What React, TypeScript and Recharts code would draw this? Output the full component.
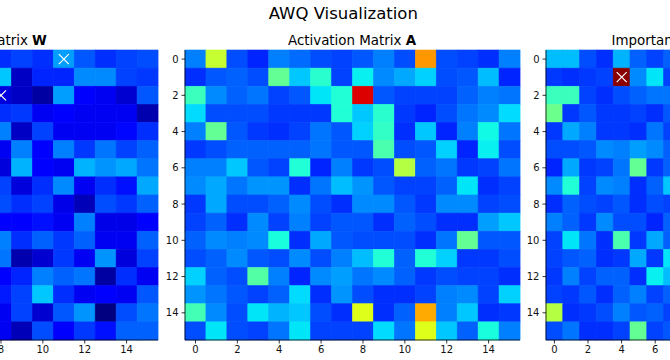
import { BarChart, Bar, XAxis, YAxis } from 'recharts'

// column / row indices of each 16x16 matrix
const columns = [0, 1, 2, 3, 4, 5, 6, 7, 8, 9, 10, 11, 12, 13, 14, 15]
const tickLabels = [0, 2, 4, 6, 8, 10, 12, 14]

// Activation matrix A, all 16 columns (normalised 0..1 on the jet scale)
const activationRows = [
  [0.25, 0.59, 0.20, 0.16, 0.25, 0.23, 0.20, 0.19, 0.21, 0.25, 0.20, 0.75, 0.20, 0.19, 0.17, 0.25],
  [0.17, 0.21, 0.22, 0.20, 0.47, 0.32, 0.40, 0.19, 0.36, 0.26, 0.29, 0.33, 0.20, 0.21, 0.31, 0.16],
  [0.42, 0.26, 0.22, 0.24, 0.19, 0.21, 0.35, 0.39, 0.92, 0.21, 0.19, 0.19, 0.19, 0.22, 0.25, 0.24],
  [0.34, 0.20, 0.20, 0.20, 0.18, 0.18, 0.18, 0.39, 0.32, 0.40, 0.18, 0.16, 0.20, 0.24, 0.26, 0.34],
  [0.25, 0.47, 0.21, 0.18, 0.17, 0.19, 0.24, 0.21, 0.33, 0.41, 0.17, 0.32, 0.16, 0.25, 0.37, 0.24],
  [0.18, 0.20, 0.22, 0.22, 0.22, 0.22, 0.24, 0.21, 0.21, 0.44, 0.20, 0.21, 0.33, 0.16, 0.36, 0.20],
  [0.25, 0.25, 0.32, 0.21, 0.19, 0.39, 0.16, 0.25, 0.18, 0.20, 0.57, 0.22, 0.24, 0.18, 0.19, 0.24],
  [0.26, 0.29, 0.24, 0.27, 0.27, 0.17, 0.24, 0.31, 0.27, 0.21, 0.19, 0.19, 0.22, 0.35, 0.17, 0.19],
  [0.18, 0.29, 0.20, 0.20, 0.22, 0.26, 0.20, 0.17, 0.26, 0.26, 0.21, 0.18, 0.26, 0.26, 0.19, 0.20],
  [0.19, 0.22, 0.17, 0.26, 0.19, 0.25, 0.19, 0.21, 0.21, 0.17, 0.22, 0.20, 0.17, 0.17, 0.28, 0.32],
  [0.22, 0.26, 0.25, 0.26, 0.38, 0.17, 0.29, 0.21, 0.20, 0.20, 0.20, 0.17, 0.24, 0.47, 0.21, 0.21],
  [0.20, 0.22, 0.26, 0.21, 0.20, 0.26, 0.20, 0.25, 0.31, 0.39, 0.22, 0.39, 0.33, 0.18, 0.18, 0.20],
  [0.33, 0.22, 0.20, 0.45, 0.25, 0.16, 0.26, 0.28, 0.24, 0.26, 0.22, 0.18, 0.20, 0.19, 0.19, 0.17],
  [0.27, 0.24, 0.21, 0.19, 0.22, 0.34, 0.17, 0.27, 0.20, 0.17, 0.17, 0.19, 0.25, 0.26, 0.19, 0.33],
  [0.43, 0.26, 0.20, 0.35, 0.30, 0.32, 0.20, 0.17, 0.62, 0.17, 0.22, 0.73, 0.25, 0.32, 0.17, 0.18],
  [0.20, 0.35, 0.20, 0.19, 0.24, 0.35, 0.19, 0.19, 0.19, 0.34, 0.24, 0.62, 0.32, 0.22, 0.38, 0.25],
]

// Weight matrix W: only columns 8..15 are inside the picture
const weightFirstCol = 8
const weightRows = [
  [0.17, 0.19, 0.17, 0.28, 0.21, 0.17, 0.19, 0.20],
  [0.32, 0.06, 0.16, 0.16, 0.26, 0.26, 0.19, 0.18],
  [0.08, 0.06, 0.03, 0.28, 0.11, 0.10, 0.07, 0.21],
  [0.17, 0.18, 0.10, 0.11, 0.10, 0.10, 0.10, 0.04],
  [0.25, 0.06, 0.19, 0.10, 0.10, 0.10, 0.13, 0.17],
  [0.10, 0.25, 0.11, 0.25, 0.18, 0.24, 0.19, 0.22],
  [0.08, 0.30, 0.11, 0.10, 0.30, 0.27, 0.29, 0.24],
  [0.19, 0.08, 0.17, 0.26, 0.10, 0.17, 0.14, 0.29],
  [0.20, 0.17, 0.19, 0.09, 0.05, 0.20, 0.18, 0.22],
  [0.11, 0.11, 0.14, 0.10, 0.25, 0.09, 0.09, 0.11],
  [0.25, 0.17, 0.22, 0.18, 0.22, 0.10, 0.10, 0.22],
  [0.24, 0.04, 0.07, 0.18, 0.10, 0.27, 0.08, 0.19],
  [0.12, 0.16, 0.25, 0.22, 0.24, 0.03, 0.17, 0.10],
  [0.15, 0.19, 0.32, 0.17, 0.10, 0.11, 0.10, 0.21],
  [0.10, 0.19, 0.07, 0.21, 0.27, 0.00, 0.20, 0.24],
  [0.10, 0.05, 0.20, 0.11, 0.18, 0.14, 0.22, 0.22],
]
const weightMarks = [{ row: 0, col: 11 }, { row: 2, col: 8 }]

// Importance matrix: only columns 0..7 are inside the picture
const importanceFirstCol = 0
const importanceRows = [
  [0.31, 0.31, 0.20, 0.17, 0.30, 0.22, 0.19, 0.22],
  [0.18, 0.17, 0.18, 0.19, 0.99, 0.26, 0.35, 0.19],
  [0.42, 0.42, 0.19, 0.17, 0.20, 0.22, 0.24, 0.24],
  [0.48, 0.18, 0.21, 0.18, 0.18, 0.19, 0.17, 0.21],
  [0.18, 0.29, 0.25, 0.18, 0.18, 0.17, 0.24, 0.19],
  [0.20, 0.20, 0.21, 0.26, 0.25, 0.28, 0.26, 0.22],
  [0.16, 0.29, 0.18, 0.19, 0.24, 0.47, 0.18, 0.22],
  [0.26, 0.39, 0.19, 0.26, 0.25, 0.17, 0.22, 0.32],
  [0.17, 0.22, 0.20, 0.19, 0.21, 0.17, 0.20, 0.19],
  [0.25, 0.22, 0.18, 0.26, 0.20, 0.20, 0.16, 0.22],
  [0.19, 0.35, 0.24, 0.17, 0.44, 0.18, 0.29, 0.22],
  [0.19, 0.21, 0.22, 0.17, 0.18, 0.29, 0.18, 0.35],
  [0.18, 0.25, 0.19, 0.22, 0.22, 0.17, 0.36, 0.31],
  [0.19, 0.18, 0.21, 0.17, 0.22, 0.25, 0.19, 0.22],
  [0.57, 0.17, 0.18, 0.20, 0.25, 0.21, 0.22, 0.19],
  [0.20, 0.24, 0.17, 0.17, 0.19, 0.47, 0.19, 0.21],
]
const importanceMarks = [{ row: 1, col: 4 }]

// matplotlib "jet"
const JET: Record<string, number[][]> = {
  r: [[0, 0], [0.35, 0], [0.66, 1], [0.89, 1], [1, 0.5]],
  g: [[0, 0], [0.125, 0], [0.375, 1], [0.64, 1], [0.91, 0], [1, 0]],
  b: [[0, 0.5], [0.11, 1], [0.34, 1], [0.65, 0], [1, 0]],
}
function channel(pts: number[][], v: number) {
  for (let i = 1; i < pts.length; i++) {
    if (v <= pts[i][0]) {
      const [x0, y0] = pts[i - 1]
      const [x1, y1] = pts[i]
      return y0 + ((v - x0) / (x1 - x0)) * (y1 - y0)
    }
  }
  return pts[pts.length - 1][1]
}
function jet(v: number) {
  const c = Math.max(0, Math.min(1, v))
  const to = (k: string) => Math.round(channel(JET[k], c) * 255)
  return `rgb(${to('r')},${to('g')},${to('b')})`
}

const FONT = '"DejaVu Sans", sans-serif'
const PLOT_TOP = 49.5
const PLOT_H = 290
const AXIS_W = 34
const tickStyle = { fontSize: 10, fill: '#111', fontFamily: FONT }
const spine = { stroke: '#000', strokeWidth: 0.8 }

type Mark = { row: number; col: number }

function buildTable(rows: number[][], firstCol: number) {
  return columns.map(col => {
    const entry: Record<string, number | null> = { col }
    rows.forEach((vals, r) => {
      entry[`r${r}`] = vals[col - firstCol] === undefined ? null : 1
    })
    return entry
  })
}

function HeatCell(props: any) {
  const { x, y, width, height, payload, row, rows, firstCol, marks } = props
  const v = rows[row][payload.col - firstCol]
  if (v === undefined || !width || !height) return <g />
  const top = Math.min(y, y + height)
  const h = Math.abs(height)
  const color = jet(v)
  const marked = (marks as Mark[]).some(m => m.row === row && m.col === payload.col)
  const cx = x + width / 2
  const cy = top + h / 2
  const s = 5
  return (
    <g>
      <rect x={x} y={top} width={width} height={h} fill={color} stroke={color} strokeWidth={0.6} />
      {marked && (
        <path d={`M${cx - s},${cy - s}L${cx + s},${cy + s}M${cx - s},${cy + s}L${cx + s},${cy - s}`}
          stroke="#fff" strokeWidth={1.2} fill="none" />
      )}
    </g>
  )
}

function HeatPanel({ rows, firstCol, marks, plotLeft, plotWidth }: {
  rows: number[][]
  firstCol: number
  marks: Mark[]
  plotLeft: number
  plotWidth: number
}) {
  const data = buildTable(rows, firstCol)
  return (
    <div style={{ position: 'absolute', left: plotLeft - AXIS_W, top: PLOT_TOP - 2 }}>
      <BarChart width={AXIS_W + plotWidth + 4} height={PLOT_H + 2 + 26} data={data}
        margin={{ top: 2, right: 4, bottom: 0, left: 0 }} barCategoryGap={0} barGap={0}>
        <XAxis dataKey="col" type="category" interval={1} height={26} tick={tickStyle}
          tickSize={3.5} tickMargin={2.5} axisLine={spine} tickLine={spine} />
        <XAxis xAxisId="top" orientation="top" dataKey="col" height={0} tick={false}
          tickLine={false} axisLine={spine} />
        <YAxis type="number" domain={[0, 16]} reversed width={AXIS_W}
          ticks={tickLabels.map(t => t + 0.5)} tickFormatter={v => String(v - 0.5)}
          tick={tickStyle} tickSize={3.5} tickMargin={3} axisLine={spine} tickLine={spine} />
        <YAxis yAxisId="right" orientation="right" type="number" domain={[0, 16]} width={0}
          tick={false} tickLine={false} axisLine={spine} />
        {rows.map((_, r) => (
          <Bar key={r} dataKey={`r${r}`} stackId="m" isAnimationActive={false}
            shape={(p: any) => <HeatCell {...p} row={r} rows={rows} firstCol={firstCol} marks={marks} />} />
        ))}
      </BarChart>
    </div>
  )
}

function Title({ center, top, size, children }: { center: number; top: number; size: number; children: any }) {
  return (
    <div style={{
      position: 'absolute', left: center - 200, width: 400, top, textAlign: 'center',
      fontFamily: FONT, fontSize: size, lineHeight: 1, color: '#000', whiteSpace: 'nowrap',
    }}>{children}</div>
  )
}

export default function App() {
  return (
    <div style={{ position: 'absolute', left: 0, top: 0, width: 670, height: 360, overflow: 'hidden', background: '#fff' }}>
      <Title center={343.3} top={5.5} size={16.5}>AWQ Visualization</Title>
      <Title center={-9.2} top={33.5} size={13.4}>Weight Matrix <b>W</b></Title>
      <Title center={352} top={33.5} size={13.4}>Activation Matrix <b>A</b></Title>
      <Title center={680.1} top={33.5} size={13.4}>Importance Matrix <b>S</b></Title>
      <HeatPanel rows={weightRows} firstCol={weightFirstCol} marks={weightMarks} plotLeft={-176.7} plotWidth={335} />
      <HeatPanel rows={activationRows} firstCol={0} marks={[]} plotLeft={184.5} plotWidth={335} />
      <HeatPanel rows={importanceRows} firstCol={importanceFirstCol} marks={importanceMarks} plotLeft={545.7} plotWidth={268.8} />
    </div>
  )
}
